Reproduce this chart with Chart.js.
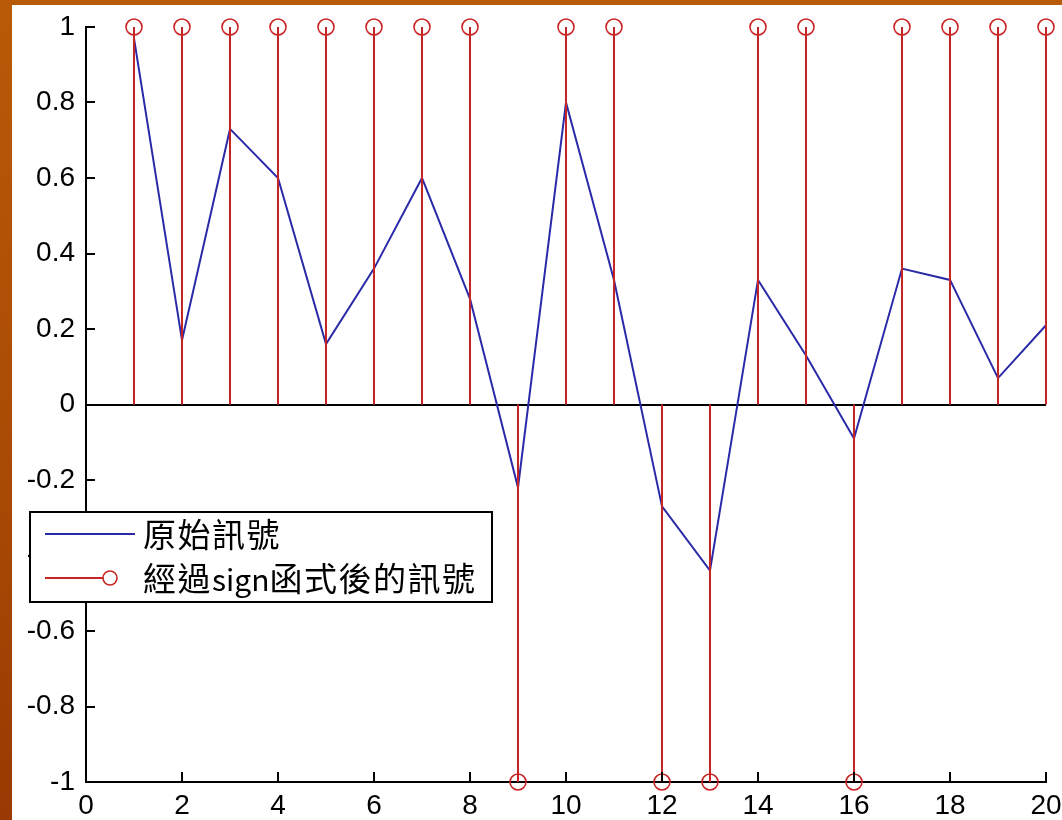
<!DOCTYPE html>
<html><head><meta charset="utf-8">
<script src="https://cdn.jsdelivr.net/npm/chart.js@4/dist/chart.umd.min.js"></script>
<style>
html,body{margin:0;padding:0;}
body{width:1062px;height:820px;overflow:hidden;position:relative;background:linear-gradient(180deg,#b95a08 0%,#a84a04 60%,#983a02 100%);}
#paper{position:absolute;left:12px;top:5px;width:1050px;height:815px;background:#fff;}
#wrap{position:absolute;left:0;top:0;width:1062px;height:820px;}
#legend{position:absolute;left:29px;top:511px;width:460px;height:88px;border:2px solid #000;background:#fff;font-family:"Noto Sans CJK TC","Noto Sans CJK SC",sans-serif;font-size:33px;color:#000;letter-spacing:1.5px;}
#legend svg{position:absolute;left:0;top:0;}
.row{position:absolute;left:112px;height:44px;line-height:44px;white-space:nowrap;}
.lat{font-size:30px;letter-spacing:0;}
</style>
</head><body>
<div id="paper"></div>
<div id="wrap"><canvas id="c"></canvas></div>
<div id="legend">
  <svg width="110" height="88">
    <line x1="14" y1="21" x2="104" y2="21" stroke="#2a2aa8" stroke-width="2"/>
    <line x1="14" y1="65" x2="72" y2="65" stroke="#c82424" stroke-width="2"/>
    <circle cx="79" cy="65" r="7" fill="none" stroke="#c82424" stroke-width="1.6"/>
  </svg>
  <div class="row" id="l1" style="top:-2px"></div>
  <div class="row" id="l2" style="top:42px"></div>
</div>
<script>
// ---- data ----
const xValues = [1,2,3,4,5,6,7,8,9,10,11,12,13,14,15,16,17,18,19,20];
const originalSignal = [0.97,0.17,0.73,0.60,0.16,0.36,0.60,0.28,-0.22,0.80,0.33,-0.27,-0.44,0.33,0.13,-0.09,0.36,0.33,0.07,0.21];
const signSignal = [1,1,1,1,1,1,1,1,-1,1,1,-1,-1,1,1,-1,1,1,1,1];
const xTicks = [0,2,4,6,8,10,12,14,16,18,20];
const xTickLabels = ['0','2','4','6','8','10','12','14','16','18','20'];
const yTicks = [-1,-0.8,-0.6,-0.4,-0.2,0,0.2,0.4,0.6,0.8,1];
const yTickLabels = ['-1','-0.8','-0.6','-0.4','-0.2','0','0.2','0.4','0.6','0.8','1'];
const seriesNames = ['原始訊號','經過sign函式後的訊號'];

// legend text (latin run slightly narrower, as in the reference)
document.getElementById('l1').textContent = seriesNames[0];
(function(){
  const el = document.getElementById('l2');
  seriesNames[1].split(/([A-Za-z]+)/).forEach(part=>{
    if(!part) return;
    if(/^[A-Za-z]+$/.test(part)){ const s=document.createElement('span'); s.className='lat'; s.textContent=part; el.appendChild(s); }
    else el.appendChild(document.createTextNode(part));
  });
})();

const BLUE = '#2a2aa8', RED = '#c82424';

const linePts = xValues.map((x,i)=>({x:x, y:originalSignal[i]}));
const stemPts = [];
xValues.forEach((x,i)=>{ stemPts.push({x:x,y:0},{x:x,y:signSignal[i]},{x:x,y:null}); });
const markerPts = xValues.map((x,i)=>({x:x, y:signSignal[i]}));

const inwardTicks = {
  id:'inwardTicks',
  afterDraw(chart){
    const {ctx, chartArea:a, scales:{x,y}} = chart;
    ctx.save();
    ctx.strokeStyle = '#000'; ctx.lineWidth = 2;
    ctx.beginPath();
    x.ticks.forEach(t=>{ const px = Math.round(x.getPixelForValue(t.value)); ctx.moveTo(px,a.bottom); ctx.lineTo(px,a.bottom-10); });
    y.ticks.forEach(t=>{ const py = Math.round(y.getPixelForValue(t.value)); ctx.moveTo(a.left,py); ctx.lineTo(a.left+9,py); });
    ctx.stroke();
    ctx.restore();
  }
};

const tickFont = {family:'"Liberation Sans", Arial, sans-serif', size:28};

new Chart(document.getElementById('c'), {
  type:'line',
  data:{datasets:[
    {label:seriesNames[1], data:stemPts, borderColor:RED, borderWidth:2, pointRadius:0, spanGaps:false, order:0, clip:false},
    {label:seriesNames[1]+' marker', data:markerPts, showLine:false, pointStyle:'circle', pointRadius:8, pointBorderWidth:1.6, pointBorderColor:RED, pointBackgroundColor:'rgba(0,0,0,0)', order:-1, clip:false},
    {label:seriesNames[0], data:linePts, borderColor:BLUE, borderWidth:2, pointRadius:0, tension:0, order:1, clip:false}
  ]},
  options:{
    responsive:true, maintainAspectRatio:false, animation:false, devicePixelRatio:1,
    layout:{padding:{top:27,right:16,left:0,bottom:0}},
    plugins:{legend:{display:false}, tooltip:{enabled:false}},
    events:[],
    scales:{
      x:{type:'linear', min:0, max:20, offset:false,
        afterBuildTicks:s=>{ s.ticks = xTicks.map(v=>({value:v})); },
        afterFit:s=>{ s.height = 38; s.paddingLeft = 0; s.paddingRight = 0; },
        ticks:{font:tickFont, color:'#000', padding:7, maxRotation:0, autoSkip:false,
          callback:(v,i)=>xTickLabels[i]},
        grid:{display:false, drawTicks:false, offset:false},
        border:{display:true, color:'#000', width:2}
      },
      y:{type:'linear', min:-1, max:1,
        afterBuildTicks:s=>{ s.ticks = yTicks.map(v=>({value:v})); },
        afterFit:s=>{ s.width = 86; s.paddingTop = 0; s.paddingBottom = 0; },
        ticks:{font:tickFont, color:'#000', padding:11, autoSkip:false,
          callback:(v,i)=>yTickLabels[i]},
        grid:{display:true, drawTicks:false, lineWidth:2,
          color:c=> (c.tick && Math.abs(c.tick.value) < 1e-9) ? '#000' : 'rgba(0,0,0,0)'},
        border:{display:true, color:'#000', width:2}
      }
    }
  },
  plugins:[inwardTicks]
});
</script>
</body></html>
